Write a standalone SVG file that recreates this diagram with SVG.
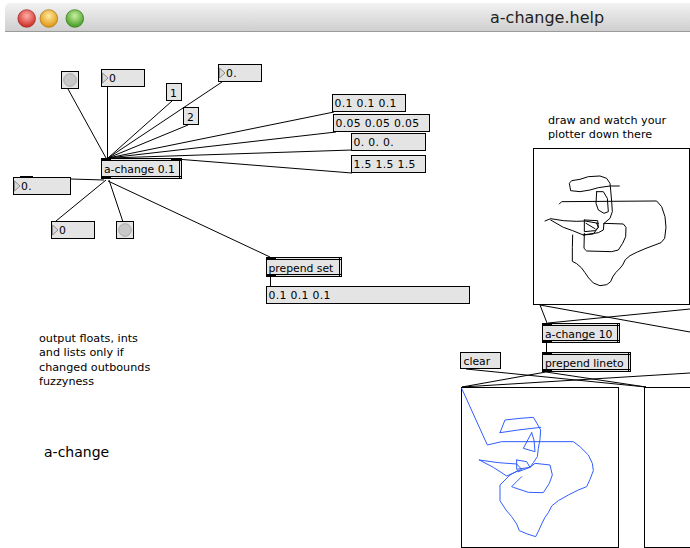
<svg xmlns="http://www.w3.org/2000/svg" width="690" height="548" viewBox="0 0 690 548">
  <defs>
    <linearGradient id="titlebar" x1="0" y1="0" x2="0" y2="1">
      <stop offset="0" stop-color="#f2f2f2"/>
      <stop offset="1" stop-color="#cfcfcf"/>
    </linearGradient>
    <radialGradient id="red" cx="0.5" cy="0.35" r="0.6">
      <stop offset="0" stop-color="#ffb0a8"/>
      <stop offset="1" stop-color="#d0302a"/>
    </radialGradient>
    <radialGradient id="yellow" cx="0.5" cy="0.35" r="0.6">
      <stop offset="0" stop-color="#ffe9a0"/>
      <stop offset="1" stop-color="#e09a18"/>
    </radialGradient>
    <radialGradient id="green" cx="0.5" cy="0.35" r="0.6">
      <stop offset="0" stop-color="#c8f0a0"/>
      <stop offset="1" stop-color="#4aa02a"/>
    </radialGradient>
  </defs>
  <style>
    .box { fill: #e4e4e4; stroke: #000; stroke-width: 1; }
    .lcd { fill: #fff; stroke: #000; stroke-width: 1; }
    .tab { fill: #000; }
    .dbl { stroke: #000; stroke-width: 1; fill: none; }
    .arrow { fill: #d8d8d8; stroke: #777; stroke-width: 0.8; }
    .bang { fill: #c8c8c8; stroke: #a8a8a8; stroke-width: 1; }
    .t { font-family: "DejaVu Sans", sans-serif; font-size: 10.8px; fill: #000; }
    .num { letter-spacing: 0.35px; }
    .cmt { font-family: "DejaVu Sans", sans-serif; font-size: 11.2px; fill: #000; }
    .cord { stroke: #000; stroke-width: 1; fill: none; }
    .pen { fill: none; stroke-width: 3; stroke-linejoin: round; stroke-linecap: round; }
  </style>

  <rect width="690" height="548" fill="#fff"/>

  <!-- window title bar -->
  <g id="titlebar">
    <path d="M5,31 V9 Q5,3 11,3 H690 V31 Z" fill="url(#titlebar)"/>
    <line x1="5" y1="31.5" x2="690" y2="31.5" stroke="#9a9a9a"/>
    <circle cx="26.7" cy="18.5" r="8.8" fill="url(#red)" stroke="#a03030" stroke-width="0.8"/>
    <circle cx="48.8" cy="18.5" r="8.8" fill="url(#yellow)" stroke="#b07a10" stroke-width="0.8"/>
    <circle cx="74.8" cy="18.5" r="8.8" fill="url(#green)" stroke="#3a8020" stroke-width="0.8"/>
    <text x="490" y="23" font-family="DejaVu Sans, sans-serif" font-size="16" fill="#222">a-change.help</text>
  </g>

  <!-- patch cords -->
  <g id="connectors" class="cord">
    <line x1="68" y1="89" x2="106" y2="158"/>
    <line x1="107.5" y1="87" x2="107.5" y2="158"/>
    <line x1="172" y1="101" x2="108" y2="158"/>
    <line x1="188" y1="125" x2="108" y2="158"/>
    <line x1="222" y1="82" x2="108" y2="158"/>
    <line x1="334" y1="112" x2="108" y2="158"/>
    <line x1="336" y1="132" x2="108" y2="158"/>
    <line x1="352" y1="150" x2="110" y2="158"/>
    <line x1="352" y1="173" x2="176" y2="159"/>
    <line x1="104" y1="180" x2="22" y2="177.5"/>
    <line x1="106" y1="180" x2="56" y2="221"/>
    <line x1="109" y1="180" x2="123" y2="222"/>
    <line x1="108" y1="181" x2="270" y2="257"/>
    <line x1="270.5" y1="277" x2="270.5" y2="287"/>
    <line x1="540" y1="305" x2="547" y2="323"/>
    <line x1="540" y1="305" x2="690" y2="332"/>
    <line x1="548" y1="323" x2="690" y2="309"/>
    <line x1="546.5" y1="343" x2="546.5" y2="352"/>
    <line x1="546" y1="372" x2="462" y2="387"/>
    <line x1="466" y1="369" x2="646" y2="387"/>
    <line x1="462" y1="387" x2="690" y2="373"/>
    <line x1="546" y1="372" x2="646" y2="387"/>
  </g>

  <!-- left patch -->
  <g id="bang-top">
    <rect class="box" x="61.5" y="71.5" width="17" height="17"/>
    <circle class="bang" cx="70" cy="80" r="6.3"/>
  </g>
  <g id="int-top">
    <rect class="box" x="101.5" y="69.5" width="43" height="17"/>
    <polygon class="arrow" points="102.5,73 108,78 102.5,83"/>
    <text class="t num" x="109" y="82">0</text>
  </g>
  <g id="msg-1">
    <rect class="box" x="166.5" y="83.5" width="15" height="17"/>
    <text class="t" x="170" y="96.5">1</text>
  </g>
  <g id="msg-2">
    <rect class="box" x="183.5" y="107.5" width="15" height="17"/>
    <text class="t" x="187" y="120.5">2</text>
  </g>
  <g id="float-top">
    <rect class="box" x="218.5" y="64.5" width="43" height="17"/>
    <polygon class="arrow" points="219.5,68 225,73 219.5,78"/>
    <text class="t num" x="226" y="77">0.</text>
  </g>
  <g id="msg-list-a">
    <rect class="box" x="332.5" y="94.5" width="73" height="17"/>
    <text class="t num" x="334.5" y="107">0.1 0.1 0.1</text>
  </g>
  <g id="msg-list-b">
    <rect class="box" x="333.5" y="114.5" width="96" height="17"/>
    <text class="t num" x="335.5" y="127">0.05 0.05 0.05</text>
  </g>
  <g id="msg-list-c">
    <rect class="box" x="351.5" y="133.5" width="74" height="17"/>
    <text class="t num" x="353.5" y="146">0. 0. 0.</text>
  </g>
  <g id="msg-list-d">
    <rect class="box" x="351.5" y="155.5" width="74" height="17"/>
    <text class="t num" x="353.5" y="168">1.5 1.5 1.5</text>
  </g>
  <g id="obj-a-change-01">
    <rect class="box" x="101.5" y="158.5" width="80" height="20"/>
    <line class="dbl" x1="102" y1="160.5" x2="181" y2="160.5"/>
    <line class="dbl" x1="102" y1="176.5" x2="181" y2="176.5"/>
    <line class="dbl" x1="179.5" y1="159" x2="179.5" y2="178"/>
    <rect class="tab" x="101" y="158" width="10" height="3"/>
    <rect class="tab" x="171" y="158" width="10" height="3"/>
    <rect class="tab" x="101" y="176" width="10" height="3"/>
    <text class="t" x="104" y="172.5">a-change 0.1</text>
  </g>
  <g id="float-left">
    <rect class="box" x="13.5" y="177.5" width="57" height="17"/>
    <rect class="tab" x="20" y="176" width="13" height="2"/>
    <polygon class="arrow" points="14.5,181 20,186 14.5,191"/>
    <text class="t num" x="21" y="190">0.</text>
  </g>
  <g id="int-bottom">
    <rect class="box" x="51.5" y="221.5" width="43" height="17"/>
    <polygon class="arrow" points="52.5,225 58,230 52.5,235"/>
    <text class="t num" x="59" y="234">0</text>
  </g>
  <g id="bang-bottom">
    <rect class="box" x="116.5" y="221.5" width="17" height="17"/>
    <circle class="bang" cx="125" cy="230" r="6.3"/>
  </g>
  <g id="obj-prepend-set">
    <rect class="box" x="266.5" y="257.5" width="75" height="19"/>
    <line class="dbl" x1="267" y1="259.5" x2="341" y2="259.5"/>
    <line class="dbl" x1="267" y1="274.5" x2="341" y2="274.5"/>
    <line class="dbl" x1="339.5" y1="258" x2="339.5" y2="276"/>
    <rect class="tab" x="266" y="257" width="10" height="3"/>
    <rect class="tab" x="266" y="274" width="10" height="3"/>
    <text class="t" x="268.5" y="271.5">prepend set</text>
  </g>
  <g id="msg-display">
    <rect class="box" x="266.5" y="286.5" width="203" height="17"/>
    <text class="t num" x="268.5" y="299">0.1 0.1 0.1</text>
  </g>

  <g id="comments">
    <text class="cmt" x="39" y="341.5">output floats, ints</text>
    <text class="cmt" x="39" y="356">and lists only if</text>
    <text class="cmt" x="39" y="370.5">changed outbounds</text>
    <text class="cmt" x="39" y="385">fuzzyness</text>
    <text x="44" y="457" font-family="DejaVu Sans, sans-serif" font-size="14" fill="#000">a-change</text>
    <text class="cmt" x="548" y="123.5">draw and watch your</text>
    <text class="cmt" x="548" y="137.5">plotter down there</text>
  </g>

  <!-- drawing surface with freehand strokes -->
  <g id="lcd-draw">
    <rect class="lcd" x="533.5" y="148.5" width="156" height="156"/>
    <g transform="translate(530 140) scale(0.33333)" class="pen" stroke="#000">
      <polyline points="88,192 95,185 380,183 395,200 405,230 408,262 404,295 393,308 372,316 348,325 322,336 300,347 286,359 278,375 268,387 257,398 248,411 242,425 230,434 210,437 190,429 176,414 165,398 154,383 140,371 127,364 127,323 128,285"/>
      <polyline points="45,243 62,236 100,242 140,244 165,243 205,250"/>
      <polyline points="62,240 100,262 128,272 160,285 190,282 205,262 200,250"/>
      <polyline points="163,240 163,275 195,272 205,262 203,242 163,240"/>
      <polyline points="168,250 195,266"/>
      <polyline points="163,280 162,325 170,333 245,335 265,330 278,310 287,290 288,262 280,252 222,250 220,270 205,278 160,285"/>
      <polyline points="268,138 240,138 205,143 180,150 150,155 122,152 118,130 125,122 150,118 175,110 210,108 230,115 240,130 242,150 245,185 247,215 240,235 228,245 220,252"/>
      <polyline points="200,155 220,155 232,175 235,215 222,220 205,210 198,190 200,155"/>
    </g>
  </g>

  <g id="obj-a-change-10">
    <rect class="box" x="542.5" y="323.5" width="77" height="19"/>
    <line class="dbl" x1="543" y1="325.5" x2="619" y2="325.5"/>
    <line class="dbl" x1="543" y1="340.5" x2="619" y2="340.5"/>
    <line class="dbl" x1="617.5" y1="324" x2="617.5" y2="342"/>
    <rect class="tab" x="542" y="323" width="10" height="3"/>
    <rect class="tab" x="542" y="340" width="10" height="3"/>
    <text class="t" x="545" y="337.5">a-change 10</text>
  </g>
  <g id="msg-clear">
    <rect class="box" x="460.5" y="352.5" width="40" height="16"/>
    <text class="t" x="463.5" y="365">clear</text>
  </g>
  <g id="obj-prepend-lineto">
    <rect class="box" x="542.5" y="352.5" width="88" height="19"/>
    <line class="dbl" x1="543" y1="354.5" x2="630" y2="354.5"/>
    <line class="dbl" x1="543" y1="369.5" x2="630" y2="369.5"/>
    <line class="dbl" x1="628.5" y1="353" x2="628.5" y2="371"/>
    <rect class="tab" x="542" y="352" width="10" height="3"/>
    <rect class="tab" x="542" y="369" width="10" height="3"/>
    <text class="t" x="545" y="366.5">prepend lineto</text>
  </g>

  <g id="lcd-plot">
    <rect class="lcd" x="461.5" y="387.5" width="157" height="160"/>
    <g transform="translate(450 380) scale(0.33333)" class="pen" stroke="#2f5cff">
      <polyline points="35,25 112,195 155,185 370,185 390,200 415,225 427,250 430,272 420,298 410,320 385,330 355,345 325,362 305,378 295,398 285,412 275,432 267,450 257,470 232,462 208,452 200,432 185,410 168,390 150,362 150,315 165,300 180,285 203,272"/>
      <polyline points="88,240 145,248 200,252 215,268 170,288 130,262 88,240"/>
      <polyline points="200,240 200,268 240,262 230,245 200,240"/>
      <polyline points="205,275 240,262 255,250 300,255 307,285 298,310 280,338 235,337 190,322 185,320 200,305 215,290"/>
      <polyline points="150,158 165,120 210,115 250,112 262,132 272,150 270,178 265,205 262,230 250,248 240,262"/>
      <polyline points="150,158 205,150 272,142"/>
      <polyline points="245,158 220,205 255,215 252,180 245,158"/>
    </g>
  </g>
  <g id="lcd-side">
    <rect class="lcd" x="644.5" y="387.5" width="60" height="160"/>
  </g>
</svg>
